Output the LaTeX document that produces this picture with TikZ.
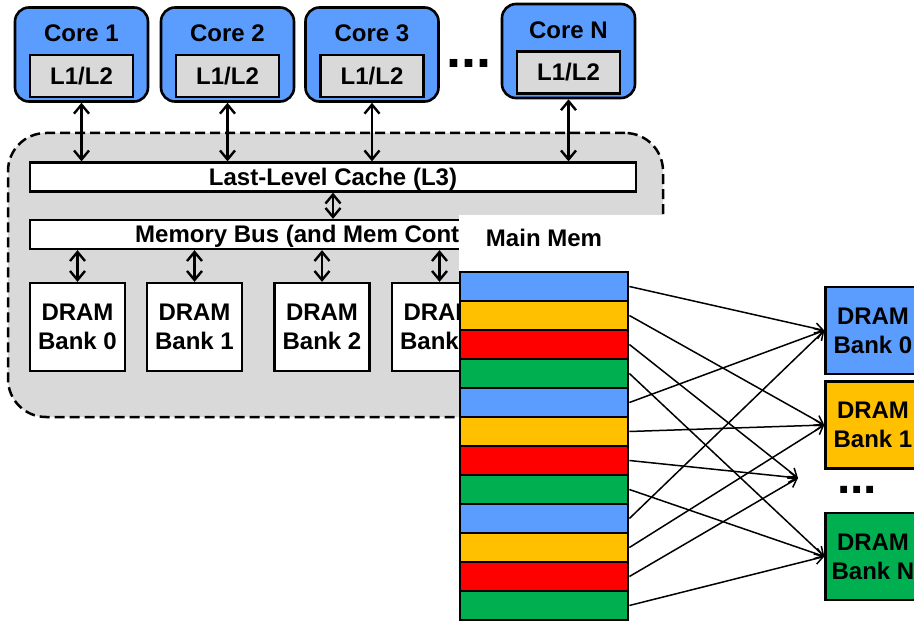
\documentclass[tikz,border=0pt]{standalone}
\usepackage{fontspec}
\setmainfont{Liberation Sans}
\usetikzlibrary{arrows.meta}
\definecolor{coreblue}{RGB}{91,157,255}
\definecolor{panelgray}{RGB}{217,217,217}
\definecolor{bankorange}{RGB}{255,192,0}
\definecolor{bankred}{RGB}{255,0,0}
\definecolor{bankgreen}{RGB}{0,176,80}

\begin{document}
\begin{tikzpicture}[x=1pt,y=-1pt,
  every node/.style={font=\fontsize{24}{29}\selectfont\bfseries, inner sep=0pt},
  capline/.style={text height=17pt,text depth=0pt},
  corebox/.style={draw, line width=2.6pt, rounded corners=14pt, fill=coreblue,
                  minimum width=133pt, minimum height=94pt},
  privcache/.style={draw, line width=2.3pt, fill=panelgray,
                    minimum width=103pt, minimum height=42pt, capline},
  widebar/.style={draw, line width=2.3pt, fill=white,
                  minimum width=606pt, minimum height=29pt, capline},
  bankbox/.style={draw, line width=2.3pt, minimum width=95pt, minimum height=88pt, align=center},
  stripe/.style={draw, line width=2.8pt, minimum width=168pt, minimum height=29pt},
  dbl/.style={line width=2.4pt,
              {Straight Barb[length=9pt,width=15pt]}-{Straight Barb[length=9pt,width=15pt]}},
  map/.style={line width=1.5pt, -{Straight Barb[length=8pt,width=11pt]}}
]
\useasboundingbox (0,0) rectangle (914,623);

% shared memory hierarchy panel
\node[draw, fill=panelgray, line width=2.5pt, dash pattern=on 10pt off 5pt,
      rounded corners=38pt, minimum width=655pt, minimum height=284pt] (panel) at (335.5,275) {};

% cores with private caches
\node[corebox] (c1) at (81.5,54.5) {};
\node[anchor=base] (t1) at (81.5,42) {Core 1};
\node[privcache] (p1) at (81.5,76) {L1/L2};

\node[corebox] (c2) at (227.5,54.5) {};
\node[anchor=base] (t2) at (227.5,42) {Core 2};
\node[privcache] (p2) at (227.5,76) {L1/L2};

\node[corebox] (c3) at (372,54.5) {};
\node[anchor=base] (t3) at (372,42) {Core 3};
\node[privcache] (p3) at (372,76) {L1/L2};

\node[corebox] (cN) at (568.5,51) {};
\node[anchor=base] (tN) at (568.5,39) {Core N};
\node[privcache] (pN) at (568.5,72.5) {L1/L2};

\node[anchor=base, font=\fontsize{54}{54}\selectfont\bfseries] (cdots) at (469,68) {...};

% shared cache and memory bus
\node[widebar] (llc) at (333,177) {Last-Level Cache (L3)};
\node[widebar, minimum height=29pt] (bus) at (333,234.5) {};
\node[anchor=base west] (bustext) at (135,243) {Memory Bus (and Mem Cont};

\foreach \c in {c1,c2,c3,cN}
  \draw[dbl] (\c.south) -- (\c.south |- llc.north);
\draw[dbl] (llc.south) -- (bus.north);

% DRAM banks behind the bus
\node[bankbox, fill=white] (d0) at (77.5,327) {DRAM\\Bank 0};
\node[bankbox, fill=white] (d1) at (194.5,327) {DRAM\\Bank 1};
\node[bankbox, fill=white] (d2) at (322,327) {DRAM\\Bank 2};
\node[bankbox, fill=white] (d3) at (439.5,327) {DRAM\\Bank 3};
\foreach \d in {d0,d1,d2,d3}
  \draw[dbl] (\d.north |- bus.south) -- (\d.north);

% inset: interleaving of main memory over the banks
\fill[white] (459,215) rectangle (914,623);

\node[anchor=base] (mmlabel) at (544,247) {Main Mem};
\foreach \col [count=\i from 0] in {coreblue,bankorange,bankred,bankgreen,
                                    coreblue,bankorange,bankred,bankgreen,
                                    coreblue,bankorange,bankred,bankgreen}
  \node[stripe, fill=\col] (s\i) at (544,{286.5+29*\i}) {};

\node[bankbox, fill=coreblue, minimum height=87pt] (r0) at (873,330.5) {DRAM\\Bank 0};
\node[bankbox, fill=bankorange, minimum height=87pt] (r1) at (873,425) {DRAM\\Bank 1};
\node[bankbox, fill=bankgreen, minimum height=87pt] (rN) at (873,556.5) {DRAM\\Bank N};
\node[anchor=base, font=\fontsize{48}{48}\selectfont\bfseries] (bdots) at (857,493) {...};
\coordinate (mid) at (798,478);

\foreach \i/\t in {0/r0.west,1/r1.west,2/mid,3/rN.west,
                   4/r0.west,5/r1.west,6/mid,7/rN.west,
                   8/r0.west,9/r1.west,10/mid,11/rN.west}
  \draw[map] (s\i.east) -- (\t);
\end{tikzpicture}
\end{document}
